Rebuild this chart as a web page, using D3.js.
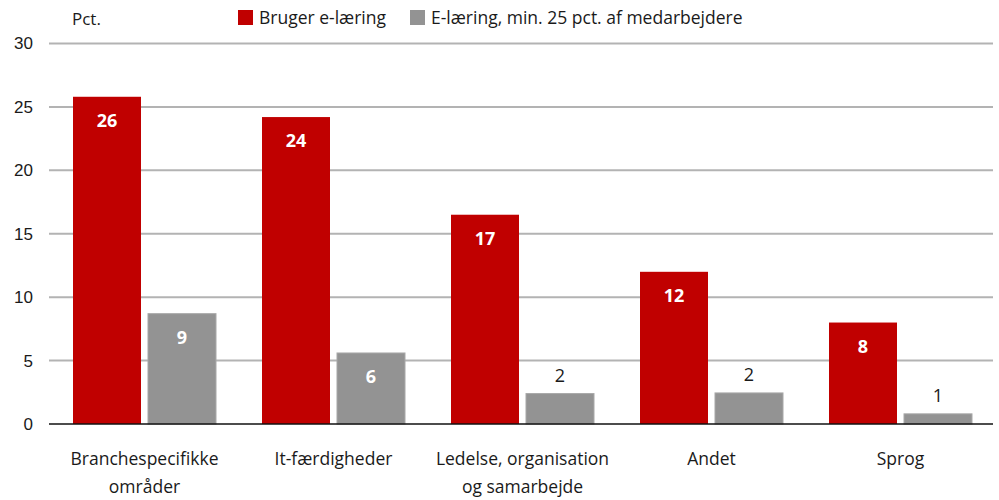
<!DOCTYPE html>
<html>
<head>
<meta charset="utf-8">
<script src="https://cdn.jsdelivr.net/npm/d3@7"></script>
<style>
    body { margin: 0; background: #fff; }
    svg { display: block; font-family: 'Open Sans', sans-serif; }
</style>
</head>
<body>
<svg id="bar-chart" width="999" height="500"></svg>
<script>
// Category labels (split into lines)
const categories = [
    ['Branchespecifikke', 'områder'],
    ['It-færdigheder'],
    ['Ledelse, organisation', 'og samarbejde'],
    ['Andet'],
    ['Sprog']
];
const seriesNames = ['Bruger e-læring', 'E-læring, min. 25 pct. af medarbejdere'];
const usesElearning = [25.8, 24.2, 16.5, 12.0, 8.0];
const atLeast25Pct = [8.7, 5.6, 2.4, 2.45, 0.8];
const yTicks = [0, 5, 10, 15, 20, 25, 30];

const colors = ['#c00000', '#939393'];

const layout = { left: 50, right: 995, top: 43.5, bottom: 424 };

function drawChart(tag) {
    tag.selectAll('*').remove();

    const xScale = d3
        .scaleBand()
        .domain(d3.range(categories.length))
        .range([layout.left, layout.right]);
    const yScale = d3.scaleLinear().domain([0, 30]).range([layout.bottom, layout.top]);

    // Gridlines
    tag.append('g')
        .selectAll('line')
        .data(yTicks.filter((t) => t > 0))
        .join('line')
        .attr('x1', layout.left - 1)
        .attr('x2', layout.right - 2)
        .attr('y1', (d) => yScale(d))
        .attr('y2', (d) => yScale(d))
        .attr('stroke', '#b3b3b3')
        .attr('stroke-width', 2);

    // Y-axis labels
    const yAxis = d3.axisLeft(yScale).tickValues(yTicks).tickSize(0).tickPadding(0);
    const yG = tag.append('g').attr('transform', `translate(33, 0)`).call(yAxis);
    yG.select('.domain').remove();
    yG.selectAll('text')
        .attr('font-size', 17)
        .attr('font-family', 'inherit')
        .attr('fill', '#1a1a1a');

    // Bars
    const groupWidth = 143;
    const barWidth = 68;
    const inner = d3
        .scaleBand()
        .domain([0, 1])
        .range([0, groupWidth])
        .paddingInner(7 / 75);
    const series = [usesElearning, atLeast25Pct];
    const bars = [];
    series.forEach((vals, s) =>
        vals.forEach((v, i) => bars.push({ s, i, v }))
    );
    const offset = (xScale.bandwidth() - groupWidth) / 2;
    const barX = (d) => xScale(d.i) + offset + inner(d.s) + (inner.bandwidth() - barWidth) / 2;

    tag.append('g')
        .selectAll('rect')
        .data(bars)
        .join('rect')
        .attr('x', barX)
        .attr('width', barWidth)
        .attr('y', (d) => yScale(d.v))
        .attr('height', (d) => yScale(0) - yScale(d.v))
        .attr('fill', (d) => colors[d.s])
        .attr('stroke', (d) => (d.s === 1 ? '#a8a8a8' : 'none'))
        .attr('stroke-width', 1);

    // Value labels
    tag.append('g')
        .selectAll('text')
        .data(bars)
        .join('text')
        .attr('x', (d) => barX(d) + barWidth / 2)
        .attr('y', (d) => (d.v < 3 ? yScale(d.v) - 12 : yScale(d.v) + 30))
        .attr('text-anchor', 'middle')
        .attr('font-size', 18)
        .attr('font-weight', (d) => (d.v < 3 ? 'normal' : 'bold'))
        .attr('fill', (d) => (d.v < 3 ? '#1a1a1a' : '#ffffff'))
        .text((d) => Math.round(d.v));

    // Baseline
    tag.append('line')
        .attr('x1', layout.left - 1)
        .attr('x2', layout.right - 2)
        .attr('y1', yScale(0))
        .attr('y2', yScale(0))
        .attr('stroke', '#111')
        .attr('stroke-width', 1.5);

    // Category labels
    const catG = tag.append('g')
        .selectAll('text')
        .data(categories)
        .join('text')
        .attr('x', (d, i) => xScale(i) + xScale.bandwidth() / 2)
        .attr('y', 465)
        .attr('text-anchor', 'middle')
        .attr('font-size', 17.5)
        .attr('fill', '#1a1a1a');
    catG.selectAll('tspan')
        .data((d) => d)
        .join('tspan')
        .attr('x', function () { return this.parentNode.getAttribute('x'); })
        .attr('dy', (d, j) => (j === 0 ? 0 : 28))
        .text((d) => d);

    // Unit label
    tag.append('text')
        .attr('x', 72)
        .attr('y', 25)
        .attr('font-size', 17)
        .attr('fill', '#1a1a1a')
        .text('Pct.');

    // Legend
    const legendX = [238, 410];
    const legend = tag.append('g')
        .selectAll('g')
        .data(seriesNames)
        .join('g')
        .attr('transform', (d, i) => `translate(${legendX[i]}, 10)`);
    legend.append('rect')
        .attr('width', 15)
        .attr('height', 15)
        .attr('fill', (d, i) => colors[i]);
    legend.append('text')
        .attr('x', 21)
        .attr('y', 14)
        .attr('font-size', 17.5)
        .attr('fill', '#1a1a1a')
        .text((d) => d);
}

window.addEventListener('DOMContentLoaded', () => {
    drawChart(d3.select('#bar-chart'));
});
</script>
</body>
</html>
